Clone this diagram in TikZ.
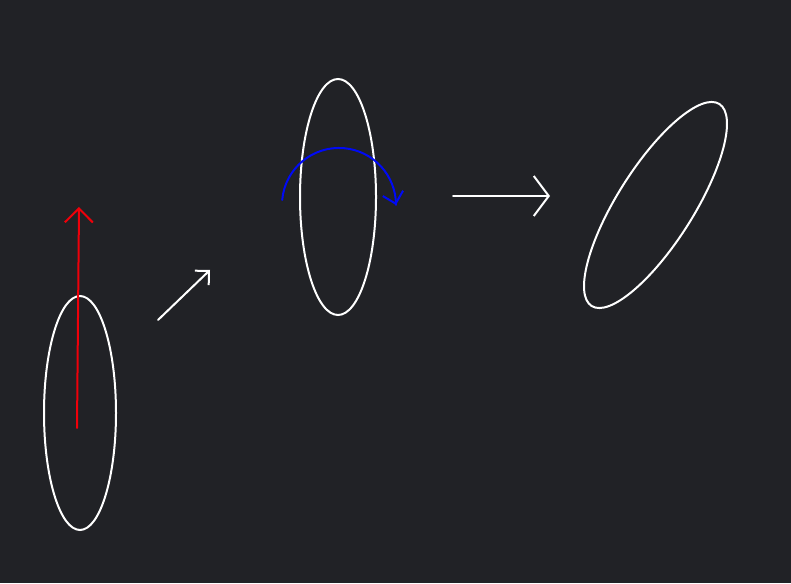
\documentclass[tikz,border=0pt]{standalone}
\usetikzlibrary{arrows.meta}
\definecolor{bg}{RGB}{33,34,38}
\definecolor{redc}{RGB}{240,0,10}
\definecolor{bluec}{RGB}{0,10,245}
\begin{document}
\begin{tikzpicture}[x=0.5pt,y=0.5pt,
  shape line/.style={draw=white,line width=1pt},
  arrow line/.style={line width=1pt,line cap=round}]
\fill[bg] (0,0) rectangle (791,583);
\useasboundingbox (0,0) rectangle (791,583);
% coordinates
\coordinate (e1) at (80,170);
\coordinate (e2) at (338,386);
\coordinate (e3) at (655.5,378);
\coordinate (rtail) at (77,155);
\coordinate (rtip) at (79,376);
\coordinate (dtail) at (158,263);
\coordinate (dtip) at (210,313);
\coordinate (htail) at (453,387);
\coordinate (htip) at (550,387);
\coordinate (bstart) at (282.2,383);
\coordinate (btip) at (396,378);
\coordinate (bback) at (395.5,379.9);
% ellipses
\draw[shape line] (e1) ellipse [x radius=36, y radius=117];
\draw[shape line] (e2) ellipse [x radius=38, y radius=118];
\draw[shape line] (e3) ellipse [x radius=38, y radius=119.5, rotate=-32.3];
% arrows
\draw[arrow line,draw=redc,-{Straight Barb[length=7pt,width=14pt,line width=1pt]}] (rtail) -- (rtip);
\draw[arrow line,draw=white,-{Straight Barb[length=5pt,width=10pt,line width=1pt]}] (dtail) -- (dtip);
\draw[arrow line,draw=white,-{Straight Barb[length=7.5pt,width=20pt,line width=1pt]}] (htail) -- (htip);
\draw[arrow line,draw=bluec] (bstart) arc [start angle=175, end angle=0, radius=57];
\draw[arrow line,draw=bluec,-{Straight Barb[length=5.3pt,width=10.5pt,line width=1pt]}] (bback) -- (btip);
\end{tikzpicture}
\end{document}
